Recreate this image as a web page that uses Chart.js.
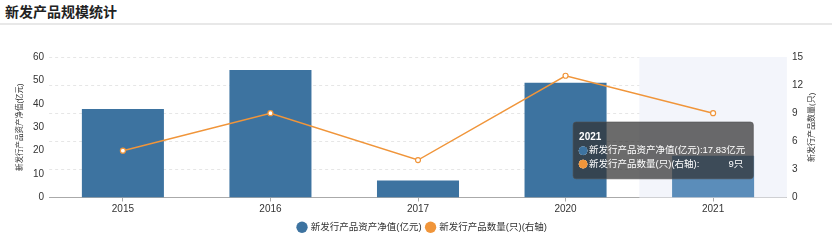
<!DOCTYPE html>
<html>
<head>
<meta charset="utf-8">
<script src="https://cdn.jsdelivr.net/npm/chart.js@4.4.1/dist/chart.umd.min.js"></script>
<style>
  body { margin: 0; background: #fff; font-family: "Liberation Sans", "Noto Sans CJK SC", sans-serif; }
  .title { height: 23px; line-height: 24px; padding-left: 5px; font-size: 14px; font-weight: bold; color: #222; border-bottom: 2px solid #e8e8e8; }
  .box { position: relative; width: 832px; height: 217px; }
</style>
</head>
<body>
<div class="title">新发产品规模统计</div>
<div class="box"><canvas id="chart"></canvas></div>
<script>
// data
const years = ["2015", "2016", "2017", "2020", "2021"];
const netAssets = [37.8, 54.4, 7.3, 49.0, 17.83];   // 亿元, left axis
const fundCount = [5, 9, 4, 13, 9];                 // 只, right axis
const leftMax = 60, leftStep = 10;
const rightMax = 15, rightStep = 3;
const hoverIndex = 4; // 2021 shown with tooltip

const FONT = '"Liberation Sans", "Noto Sans CJK SC", sans-serif';
const BLUE = "#3d73a0";
const BLUE_HOVER = "#5b8dba";
const ORANGE = "#f0953a";

Chart.defaults.font.family = FONT;
Chart.defaults.color = "#333";

// light band behind the hovered category
const bandPlugin = {
  id: "band",
  beforeDatasetsDraw(chart) {
    const xs = chart.scales.x, area = chart.chartArea, c = chart.ctx;
    const half = (xs.getPixelForValue(1) - xs.getPixelForValue(0)) / 2;
    const cx = xs.getPixelForValue(hoverIndex);
    c.save();
    c.fillStyle = "#f3f5fb";
    c.fillRect(cx - half, area.top, half * 2, area.bottom - area.top);
    c.restore();
  }
};

// right axis title reads bottom-to-top like the left one
const rightTitlePlugin = {
  id: "rightTitle",
  afterDraw(chart) {
    const area = chart.chartArea, c = chart.ctx;
    c.save();
    c.translate(chart.width - 20, (area.top + area.bottom) / 2);
    c.rotate(-Math.PI / 2);
    c.font = "8px " + FONT;
    c.fillStyle = "#333";
    c.textAlign = "center";
    c.textBaseline = "middle";
    c.fillText("新发行产品数量(只)", 0, 0);
    c.restore();
  }
};

// legend sits a little right of centre in the original
const legendShift = {
  id: "legendShift",
  afterLayout(chart) {
    chart.legend.left += 4;
    chart.legend.right += 4;
  }
};

Chart.Tooltip.positioners.fixedSpot = function () {
  const xs = this.chart.scales.x;
  return { x: xs.getPixelForValue(hoverIndex) - 137, y: this.chart.chartArea.top + 65 };
};

function padLine(left, right) {
  const c = chart.ctx;
  c.save();
  c.font = "9.5px " + FONT;
  const target = c.measureText(netLabel()).width;
  let s = left;
  while (c.measureText(s + " " + right).width < target) s += " ";
  c.restore();
  return s + right;
}
function netLabel() {
  return "新发行产品资产净值(亿元):" + netAssets[hoverIndex] + "亿元";
}

const ctx = document.getElementById("chart").getContext("2d");
const chart = new Chart(ctx, {
  data: {
    labels: years,
    datasets: [
      {
        type: "line",
        label: "新发行产品数量(只)(右轴)",
        data: fundCount,
        yAxisID: "y1",
        borderColor: ORANGE,
        borderWidth: 1.5,
        pointRadius: 2.5,
        pointHoverRadius: 2.5,
        pointBorderWidth: 1.2,
        pointBackgroundColor: "#fff",
        pointBorderColor: ORANGE,
        order: 0
      },
      {
        type: "bar",
        label: "新发行产品资产净值(亿元)",
        data: netAssets,
        yAxisID: "y",
        backgroundColor: (c) => (c.dataIndex === hoverIndex ? BLUE_HOVER : BLUE),
        hoverBackgroundColor: (c) => (c.dataIndex === hoverIndex ? BLUE_HOVER : BLUE),
        barPercentage: 0.556,
        categoryPercentage: 1,
        order: 1
      }
    ]
  },
  options: {
    responsive: true,
    maintainAspectRatio: false,
    animation: false,
    events: [],
    layout: { padding: { left: 9, right: 4, top: 32, bottom: 0 } },
    scales: {
      x: {
        grid: { display: true, drawOnChartArea: false, offset: false, tickLength: 4, color: "#aaa" },
        border: { color: "#aaa" },
        ticks: { font: { size: 10 }, color: "#333", padding: 2 }
      },
      y: {
        position: "left",
        min: 0, max: leftMax,
        ticks: { stepSize: leftStep, font: { size: 10 }, color: "#333", padding: 5 },
        grid: { display: false, drawTicks: false },
        border: { display: false },
        title: { display: true, text: "新发行产品资产净值(亿元)", font: { size: 7.5 }, color: "#333", padding: { top: 6, bottom: 4 } }
      },
      y1: {
        position: "right",
        min: 0, max: rightMax,
        ticks: { stepSize: rightStep, font: { size: 10 }, color: "#333", padding: 5 },
        grid: { color: "#e6e6e6", drawTicks: false },
        border: { display: false, dash: [3, 3] },
        title: { display: true, text: "新发行产品数量(只)", font: { size: 10 }, color: "transparent", padding: { top: 4, bottom: 4 } }
      }
    },
    plugins: {
      legend: {
        position: "bottom",
        labels: {
          font: { size: 9.5 },
          color: "#333",
          usePointStyle: true,
          boxWidth: 8,
          boxHeight: 8,
          padding: 5,
          generateLabels(ch) {
            return [1, 0].map((i) => {
              const ds = ch.data.datasets[i];
              const col = ds.type === "bar" ? BLUE : ORANGE;
              return { text: ds.label, fillStyle: col, strokeStyle: col, lineWidth: 0, pointStyle: "circle", datasetIndex: i, fontColor: "#333" };
            });
          }
        }
      },
      tooltip: {
        enabled: true,
        position: "fixedSpot",
        xAlign: "left",
        yAlign: "top",
        caretSize: 0,
        caretPadding: 0,
        cornerRadius: 3,
        backgroundColor: "rgba(50,50,50,0.72)",
        borderColor: "rgba(80,80,80,0.6)",
        borderWidth: 1,
        padding: { left: 6, right: 8, top: 9, bottom: 9 },
        titleFont: { size: 10, weight: "bold" },
        titleMarginBottom: 2,
        bodyFont: { size: 9.5 },
        bodySpacing: 2,
        usePointStyle: true,
        boxWidth: 8,
        boxHeight: 8,
        itemSort: (a, b) => b.datasetIndex - a.datasetIndex,
        callbacks: {
          title: (items) => items[0].label,
          label: (item) => item.dataset.type === "bar"
            ? netLabel()
            : padLine("新发行产品数量(只)(右轴):", fundCount[hoverIndex] + "只"),
          labelColor: (item) => {
            const col = item.dataset.type === "bar" ? BLUE : ORANGE;
            return { borderColor: col, backgroundColor: col, borderWidth: 0 };
          },
          labelPointStyle: () => ({ pointStyle: "circle", rotation: 0 })
        }
      }
    }
  },
  plugins: [bandPlugin, rightTitlePlugin, legendShift]
});

chart.tooltip.setActiveElements(
  [{ datasetIndex: 1, index: hoverIndex }, { datasetIndex: 0, index: hoverIndex }],
  { x: 0, y: 0 }
);
chart.update();
</script>
</body>
</html>
